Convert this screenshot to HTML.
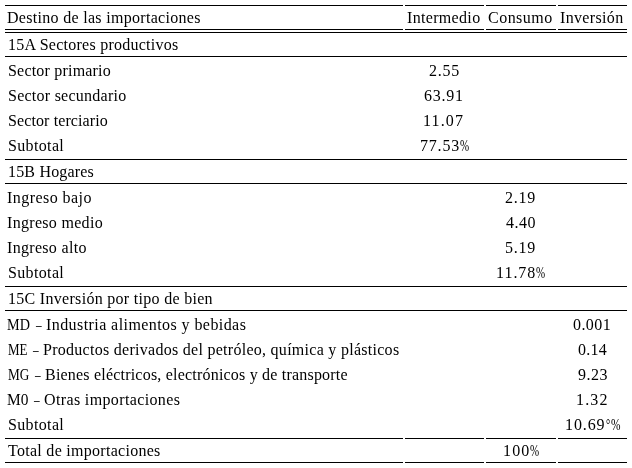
<!DOCTYPE html>
<html><head><meta charset="utf-8"><title>Destino de las importaciones</title><style>
html,body{margin:0;padding:0;background:#fff;width:632px;height:468px;overflow:hidden}
table{position:absolute;left:3px;top:3px;border-collapse:separate;border-spacing:2px;table-layout:fixed;width:626px;font-family:"Liberation Serif",serif;font-size:16px;color:#000;will-change:transform}
td{padding:0;height:23px;line-height:23px;white-space:nowrap;vertical-align:middle;box-sizing:border-box;position:relative}
td span{position:absolute;top:0;display:inline-block}
tr.h td,tr.s td{border-top:1px solid #000;border-bottom:1px solid #000;height:25px}
tr.h td span,tr.s td span{top:0}
</style></head><body>
<table>
<colgroup><col style="width:398px"><col style="width:79px"><col style="width:70px"><col style="width:69px"></colgroup>
<tr class="h"><td><span style="left:2.00px;letter-spacing:0.302px;">Destino de las importaciones</span></td><td><span style="left:2.00px;letter-spacing:0.328px;">Intermedio</span></td><td><span style="left:2.00px;letter-spacing:0.483px;">Consumo</span></td><td><span style="left:2.00px;letter-spacing:0.338px;">Inversión</span></td></tr>
<tr class="s"><td colspan="4"><span style="left:3.00px;letter-spacing:0.250px;">15A Sectores productivos</span></td></tr>
<tr class="d"><td><span style="left:3.00px;letter-spacing:0.200px;">Sector primario</span></td><td><span style="left:24.00px;letter-spacing:0.717px;">2.55</span></td><td></td><td></td></tr>
<tr class="d"><td><span style="left:3.00px;letter-spacing:0.250px;">Sector secundario</span></td><td><span style="left:19.00px;letter-spacing:0.775px;">63.91</span></td><td></td><td></td></tr>
<tr class="d"><td><span style="left:3.00px;letter-spacing:0.110px;">Sector terciario</span></td><td><span style="left:18.00px;letter-spacing:1.125px;">11.07</span></td><td></td><td></td></tr>
<tr class="d"><td><span style="left:3.00px;letter-spacing:0.350px;">Subtotal</span></td><td><span style="left:15.00px;letter-spacing:0.810px;">77.53</span><span style="left:55.00px;transform:scaleX(0.685);transform-origin:0 0;">%</span></td><td></td><td></td></tr>
<tr class="s"><td colspan="4"><span style="left:3.00px;letter-spacing:0.180px;">15B Hogares</span></td></tr>
<tr class="d"><td><span style="left:2.00px;letter-spacing:0.441px;">Ingreso bajo</span></td><td></td><td><span style="left:19.00px;letter-spacing:0.717px;">2.19</span></td><td></td></tr>
<tr class="d"><td><span style="left:2.00px;letter-spacing:0.308px;">Ingreso medio</span></td><td></td><td><span style="left:20.00px;letter-spacing:0.483px;">4.40</span></td><td></td></tr>
<tr class="d"><td><span style="left:2.00px;letter-spacing:0.314px;">Ingreso alto</span></td><td></td><td><span style="left:19.00px;letter-spacing:0.717px;">5.19</span></td><td></td></tr>
<tr class="d"><td><span style="left:3.00px;letter-spacing:0.350px;">Subtotal</span></td><td></td><td><span style="left:10.00px;letter-spacing:0.985px;">11.78</span><span style="left:50.00px;transform:scaleX(0.685);transform-origin:0 0;">%</span></td><td></td></tr>
<tr class="s"><td colspan="4"><span style="left:3.00px;letter-spacing:0.298px;">15C Inversión por tipo de bien</span></td></tr>
<tr class="d"><td><span style="left:2.00px;transform:scaleX(0.888);transform-origin:0 0;">MD</span><span style="left:31.00px;transform:scaleX(0.702);transform-origin:0 0;">–</span><span style="left:41.00px;letter-spacing:0.425px;">Industria alimentos y bebidas</span></td><td></td><td></td><td><span style="left:15.00px;letter-spacing:0.425px;">0.001</span></td></tr>
<tr class="d"><td><span style="left:3.00px;transform:scaleX(0.812);transform-origin:0 0;">ME</span><span style="left:28.00px;transform:scaleX(0.702);transform-origin:0 0;">–</span><span style="left:38.00px;letter-spacing:0.277px;">Productos derivados del petróleo, química y plásticos</span></td><td></td><td></td><td><span style="left:20.00px;letter-spacing:0.250px;">0.14</span></td></tr>
<tr class="d"><td><span style="left:3.00px;transform:scaleX(0.826);transform-origin:0 0;">MG</span><span style="left:30.00px;transform:scaleX(0.702);transform-origin:0 0;">–</span><span style="left:40.00px;letter-spacing:0.204px;">Bienes eléctricos, electrónicos y de transporte</span></td><td></td><td></td><td><span style="left:20.00px;letter-spacing:0.483px;">9.23</span></td></tr>
<tr class="d"><td><span style="left:2.00px;transform:scaleX(0.962);transform-origin:0 0;">M0</span><span style="left:29.00px;transform:scaleX(0.702);transform-origin:0 0;">–</span><span style="left:39.00px;letter-spacing:0.367px;">Otras importaciones</span></td><td></td><td></td><td><span style="left:18.00px;letter-spacing:1.183px;">1.32</span></td></tr>
<tr class="d"><td><span style="left:3.00px;letter-spacing:0.350px;">Subtotal</span></td><td></td><td></td><td><span style="left:7.00px;letter-spacing:0.892px;">10.69</span><span style="left:48.00px;transform:scaleX(0.658);transform-origin:0 0;">°</span><span style="left:53.00px;transform:scaleX(0.712);transform-origin:0 0;">%</span></td></tr>
<tr class="h"><td><span style="left:3.00px;letter-spacing:0.283px;">Total de importaciones</span></td><td></td><td><span style="left:17.00px;letter-spacing:1.183px;">100</span><span style="left:44.00px;transform:scaleX(0.685);transform-origin:0 0;">%</span></td><td></td></tr>
</table>
</body></html>
